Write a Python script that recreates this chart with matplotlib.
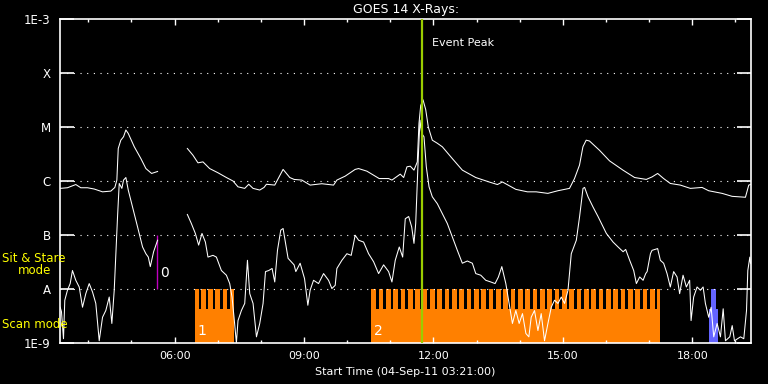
import numpy as np
import matplotlib
matplotlib.use('Agg')
import matplotlib.pyplot as plt
from matplotlib.ticker import FixedLocator
import matplotlib.transforms as mtransforms

NAN = float('nan')

# ---- GOES 14 long channel (1-8 A), time in decimal hours of 04-Sep-2011 ----
t_long = [3.347, 3.516, 3.709, 3.825, 3.980, 4.136, 4.329, 4.521, 4.614, 4.661,
          4.693, 4.753, 4.816, 4.870, 4.925, 5.065, 5.218, 5.334, 5.466, 5.605,
          5.900,
          6.295, 6.425, 6.541, 6.657, 6.812, 7.005, 7.200, 7.353, 7.469, 7.625,
          7.718, 7.818, 7.973, 8.073, 8.128, 8.321, 8.414, 8.514, 8.669, 8.769,
          8.948, 9.141, 9.412, 9.684, 9.761, 9.953, 10.185, 10.264, 10.457, 10.742,
          10.960, 11.037, 11.230, 11.309, 11.385, 11.462, 11.548, 11.625, 11.664, 11.704,
          11.757, 11.820, 11.880, 11.973, 12.089, 12.205, 12.437, 12.669, 12.980, 13.289,
          13.482, 13.598, 13.909, 14.178, 14.380, 14.651, 14.883, 15.153, 15.269, 15.385,
          15.464, 15.540, 15.617, 15.849, 16.081, 16.392, 16.662, 16.933, 17.066, 17.196,
          17.335, 17.490, 17.722, 17.954, 18.226, 18.379, 18.690, 18.922, 19.231, 19.308,
          19.347]
f_long = [7.3e-7, 7.5e-7, 8.6e-7, 7.5e-7, 7.5e-7, 7.1e-7, 6.3e-7, 6.5e-7, 7.6e-7, 1.04e-6,
          4.0e-6, 5.7e-6, 6.6e-6, 8.8e-6, 7.6e-6, 4.3e-6, 2.6e-6, 1.7e-6, 1.38e-6, 1.5e-6,
          NAN,
          4.0e-6, 3.0e-6, 2.17e-6, 2.26e-6, 1.7e-6, 1.42e-6, 1.16e-6, 1.0e-6, 7.8e-7, 7.3e-7,
          8.7e-7, 7.3e-7, 6.8e-7, 7.6e-7, 8.7e-7, 8.4e-7, 1.16e-6, 1.64e-6, 1.16e-6, 1.07e-6,
          1.04e-6, 8.4e-7, 8.9e-7, 8.4e-7, 1.04e-6, 1.23e-6, 1.64e-6, 1.7e-6, 1.52e-6, 1.11e-6,
          1.11e-6, 1.04e-6, 1.34e-6, 1.16e-6, 1.83e-6, 1.88e-6, 1.59e-6, 2.26e-6, 1.17e-5, 2.5e-5,
          3.2e-5, 2.1e-5, 1.0e-5, 5.7e-6, 5.0e-6, 4.3e-6, 2.6e-6, 1.59e-6, 1.16e-6, 9.6e-7,
          8.6e-7, 9.6e-7, 7.0e-7, 6.3e-7, 6.3e-7, 5.9e-7, 6.6e-7, 7.3e-7, 1.11e-6, 1.97e-6,
          4.3e-6, 5.7e-6, 5.5e-6, 3.7e-6, 2.36e-6, 1.59e-6, 1.16e-6, 1.07e-6, 1.19e-6, 1.38e-6,
          1.11e-6, 9.0e-7, 8.4e-7, 7.3e-7, 7.6e-7, 6.6e-7, 5.9e-7, 5.2e-7, 5.0e-7, 8.4e-7,
          8.6e-7]

# ---- GOES 14 short channel (0.5-4 A) ----
t_short = [3.347, 3.377, 3.424, 3.454, 3.516, 3.579, 3.632, 3.709, 3.788, 3.865,
           3.941, 4.020, 4.097, 4.173, 4.252, 4.329, 4.405, 4.484, 4.545, 4.600,
           4.677, 4.716, 4.777, 4.816, 4.870, 4.925, 5.025, 5.141, 5.257, 5.334,
           5.390, 5.436, 5.513, 5.605,
           5.900,
           6.295, 6.388, 6.480, 6.557, 6.634, 6.713, 6.773, 6.889, 6.968, 7.084,
           7.200, 7.277, 7.330, 7.377, 7.432, 7.469, 7.548, 7.625, 7.688, 7.741,
           7.818, 7.897, 7.973, 8.050, 8.106, 8.182, 8.259, 8.321, 8.384, 8.460,
           8.514, 8.630, 8.769, 8.809, 8.909, 9.011, 9.088, 9.141, 9.220, 9.336,
           9.452, 9.568, 9.645, 9.722, 9.761, 9.877, 9.993, 10.093, 10.185, 10.264,
           10.380, 10.496, 10.612, 10.728, 10.844, 10.960, 11.037, 11.114, 11.207, 11.286,
           11.346, 11.425, 11.495, 11.548, 11.588, 11.648, 11.687, 11.727, 11.780, 11.834,
           11.897, 11.973, 12.089, 12.205, 12.321, 12.437, 12.553, 12.669, 12.785, 12.901,
           12.980, 13.096, 13.212, 13.328, 13.428, 13.505, 13.584, 13.677, 13.753, 13.830,
           13.909, 13.986, 14.063, 14.142, 14.211, 14.265, 14.342, 14.421, 14.497, 14.574,
           14.653, 14.730, 14.806, 14.885, 14.962, 15.039, 15.118, 15.194, 15.311, 15.387,
           15.466, 15.503, 15.582, 15.698, 15.814, 16.007, 16.163, 16.279, 16.395, 16.455,
           16.548, 16.641, 16.703, 16.780, 16.859, 16.919, 16.952, 17.029, 17.066, 17.196,
           17.259, 17.335, 17.414, 17.490, 17.567, 17.646, 17.706, 17.785, 17.862, 17.938,
           17.971, 18.031, 18.110, 18.187, 18.250, 18.303, 18.380, 18.436, 18.496, 18.575,
           18.652, 18.715, 18.768, 18.868, 18.924, 18.977, 19.116, 19.193, 19.256, 19.286,
           19.333, 19.349]
f_short = [4.6e-9, 3.8e-9, 1.2e-9, 6.2e-9, 9.5e-9, 1.26e-8, 2.2e-8, 1.45e-8, 1.09e-8, 4.6e-9,
           8.2e-9, 1.26e-8, 8.8e-9, 5.4e-9, 1.1e-9, 3.0e-9, 4.0e-9, 7.1e-9, 2.3e-9, 9.5e-9,
           2.2e-7, 9.0e-7, 7.3e-7, 1.04e-6, 1.16e-6, 6.8e-7, 3.3e-7, 1.41e-7, 6.0e-8, 4.5e-8,
           3.9e-8, 2.6e-8, 4.9e-8, 8.0e-8,
           NAN,
           2.4e-7, 1.63e-7, 1.07e-7, 6.5e-8, 1.07e-7, 7.4e-8, 3.9e-8, 4.2e-8, 3.9e-8, 2.2e-8,
           1.8e-8, 1.26e-8, 7.1e-9, 3.0e-9, 1.0e-9, 2.6e-9, 4.0e-9, 5.4e-9, 3.4e-8, 8.2e-9,
           5.4e-9, 1.3e-9, 2.3e-9, 5.4e-9, 2.1e-8, 2.2e-8, 2.4e-8, 1.35e-8, 5.2e-8, 1.23e-7,
           1.32e-7, 3.7e-8, 2.8e-8, 2.1e-8, 3.0e-8, 1.56e-8, 5.0e-9, 9.5e-9, 1.45e-8, 1.26e-8,
           1.93e-8, 1.45e-8, 1.02e-8, 1.17e-8, 2.4e-8, 3.4e-8, 4.5e-8, 4.2e-8, 9.9e-8, 8.0e-8,
           7.4e-8, 4.5e-8, 3.2e-8, 1.93e-8, 2.8e-8, 2.1e-8, 1.35e-8, 3.4e-8, 6.0e-8, 3.9e-8,
           2.0e-7, 2.2e-7, 1.41e-7, 7.0e-8, 1.63e-7, 2.8e-6, 1.34e-5, 7.6e-6, 6.6e-6, 1.83e-6,
           7.8e-7, 5.1e-7, 3.8e-7, 2.5e-7, 1.63e-7, 9.2e-8, 5.2e-8, 3.0e-8, 3.3e-8, 3.0e-8,
           1.93e-8, 1.8e-8, 1.45e-8, 1.35e-8, 1.26e-8, 1.67e-8, 2.6e-8, 1.26e-8, 5.4e-9, 2.3e-9,
           4.0e-9, 2.3e-9, 3.5e-9, 1.5e-9, 1.3e-9, 3.0e-9, 4.0e-9, 1.7e-9, 3.5e-9, 1.1e-9,
           2.3e-9, 4.6e-9, 6.2e-9, 5.4e-9, 7.1e-9, 5.4e-9, 9.5e-9, 4.5e-8, 8.0e-8, 2.2e-7,
           7.3e-7, 7.6e-7, 5.1e-7, 3.3e-7, 2.2e-7, 1.07e-7, 7.4e-8, 6.0e-8, 4.9e-8, 5.4e-8,
           3.4e-8, 2.2e-8, 1.26e-8, 1.67e-8, 1.45e-8, 1.93e-8, 2.1e-8, 4.5e-8, 5.2e-8, 5.6e-8,
           3.4e-8, 3.0e-8, 1.93e-8, 1.09e-8, 2.1e-8, 1.67e-8, 8.2e-9, 1.8e-8, 1.09e-8, 1.45e-8,
           2.6e-9, 7.1e-9, 1.09e-8, 9.5e-9, 1.09e-8, 5.4e-9, 3.0e-9, 4.6e-9, 1.3e-9, 2.3e-9,
           1.3e-9, 4.3e-9, 1.1e-9, 1.3e-9, 2.1e-9, 1.1e-9, 1.3e-9, 1.2e-9, 4.0e-9, 2.2e-8,
           3.9e-8, 3.0e-8]

# ---- axis definitions ----
t_start = 3 + 21 / 60.0
t_end = 19.36
decade_values = [1e-9, 1e-8, 1e-7, 1e-6, 1e-5, 1e-4, 1e-3]
decade_labels = ['1E-9', 'A', 'B', 'C', 'M', 'X', '1E-3']
x_major_hours = [6, 9, 12, 15, 18]
x_major_labels = ['06:00', '09:00', '12:00', '15:00', '18:00']
x_minor_hours = [4, 5, 7, 8, 10, 11, 13, 14, 16, 17, 19]

# ---- observing modes ----
scan_blocks = [(6.464, 7.370), (10.550, 17.258)]
scan_block_labels = ['1', '2']
scan_gap_starts = [6.557, 6.720, 6.882, 7.045, 7.207,
                   10.666, 10.836, 11.006, 11.176, 11.346, 11.516, 11.686, 11.856, 12.026,
                   12.196, 12.366, 12.536, 12.706, 12.876, 13.046, 13.216, 13.386, 13.556,
                   13.726, 13.896, 14.066, 14.236, 14.406, 14.576, 14.746, 14.916, 15.086,
                   15.256, 15.426, 15.596, 15.766, 15.936, 16.106, 16.276, 16.446, 16.616,
                   16.786, 16.956, 17.126]
scan_gap_len = 0.065
sit_stare_block = (5.589, 1e-8, 1e-7)   # time, lower, upper
sit_stare_label = '0'
blue_block = (18.440, 18.560)
event_peak_hour = 11.727

ORANGE = '#FF8000'
GREEN = '#9ACD00'
MAGENTA = '#C000C0'
BLUE = '#6464FF'
YELLOW = '#FFFF00'

fig = plt.figure(figsize=(7.68, 3.84), dpi=100, facecolor='black')
ax = fig.add_axes([60.3 / 768, 41 / 384, (751 - 60.3) / 768, (343 - 19) / 384])
ax.set_facecolor('black')
ax.set_yscale('log')
ax.set_xlim(t_start, t_end)
ax.set_ylim(1e-9, 1e-3)

trans = mtransforms.blended_transform_factory(ax.transData, ax.transAxes)
tooth_low = 0.105
tooth_high = 1 / 6.0
for (a, b), lab in zip(scan_blocks, scan_block_labels):
    ax.add_patch(plt.Rectangle((a, 0), b - a, tooth_high, transform=trans,
                               facecolor=ORANGE, edgecolor='none', zorder=1))
    ax.text(a + 0.06, 1.7e-9, lab, color='white', fontsize=10, ha='left',
            va='center', zorder=5)
for g in scan_gap_starts:
    ax.add_patch(plt.Rectangle((g, tooth_low), scan_gap_len, tooth_high - tooth_low,
                               transform=trans, facecolor='black', edgecolor='none',
                               zorder=1.5))

ax.add_patch(plt.Rectangle((blue_block[0], 0), blue_block[1] - blue_block[0], tooth_high,
                           transform=trans, facecolor=BLUE, edgecolor='none', zorder=1))
ax.add_patch(plt.Rectangle((blue_block[0] - 0.05, 0), blue_block[1] - blue_block[0] + 0.09,
                           tooth_low, transform=trans, facecolor=BLUE, edgecolor='none',
                           zorder=1))

ax.vlines(sit_stare_block[0], sit_stare_block[1], sit_stare_block[2], color=MAGENTA,
          lw=1.0, zorder=3)
ax.text(sit_stare_block[0] + 0.07, 2.0e-8, sit_stare_label, color='white', fontsize=10,
        ha='left', va='center', zorder=5)

for v in decade_values[1:-1]:
    ax.axhline(v, color='white', lw=0.8, ls=(0, (1, 5)), zorder=2)

ax.plot(t_long, f_long, color='white', lw=0.75, zorder=4)
ax.plot(t_short, f_short, color='white', lw=0.75, zorder=4)

ax.axvline(event_peak_hour, color=GREEN, lw=1.6, zorder=4.5)
ax.text(event_peak_hour + 0.23, 3.6e-4, 'Event Peak', color='white', fontsize=8,
        ha='left', va='center')

ax.yaxis.set_major_locator(FixedLocator(decade_values))
ax.set_yticklabels(decade_labels)
ax.yaxis.set_minor_locator(FixedLocator([]))
ax.tick_params(axis='y', which='major', direction='in', length=10, width=1.2,
               left=True, right=True, colors='white', labelsize=8.5, pad=7)
ax.xaxis.set_major_locator(FixedLocator(x_major_hours))
ax.set_xticklabels(x_major_labels)
ax.xaxis.set_minor_locator(FixedLocator(x_minor_hours))
ax.tick_params(axis='x', which='major', direction='in', length=4, width=1,
               top=True, bottom=True, colors='white', labelsize=8, pad=6)
ax.tick_params(axis='x', which='minor', direction='in', length=2, width=1,
               top=True, bottom=True, colors='white')
for s in ax.spines.values():
    s.set_color('white')
    s.set_linewidth(1.2)

ax.set_title('GOES 14 X-Rays:', color='white', fontsize=9, pad=4)
ax.set_xlabel('Start Time (04-Sep-11 03:21:00)', color='white', fontsize=8, labelpad=4)

fig.text(2 / 768, 1 - 259 / 384, 'Sit & Stare', color=YELLOW, fontsize=8.5, ha='left',
         va='center')
fig.text(35 / 768, 1 - 271 / 384, 'mode', color=YELLOW, fontsize=8.5, ha='center',
         va='center')
fig.text(2 / 768, 1 - 324 / 384, 'Scan mode', color=YELLOW, fontsize=8.5, ha='left',
         va='center')

fig.savefig('out.png', dpi=100, facecolor='black')
